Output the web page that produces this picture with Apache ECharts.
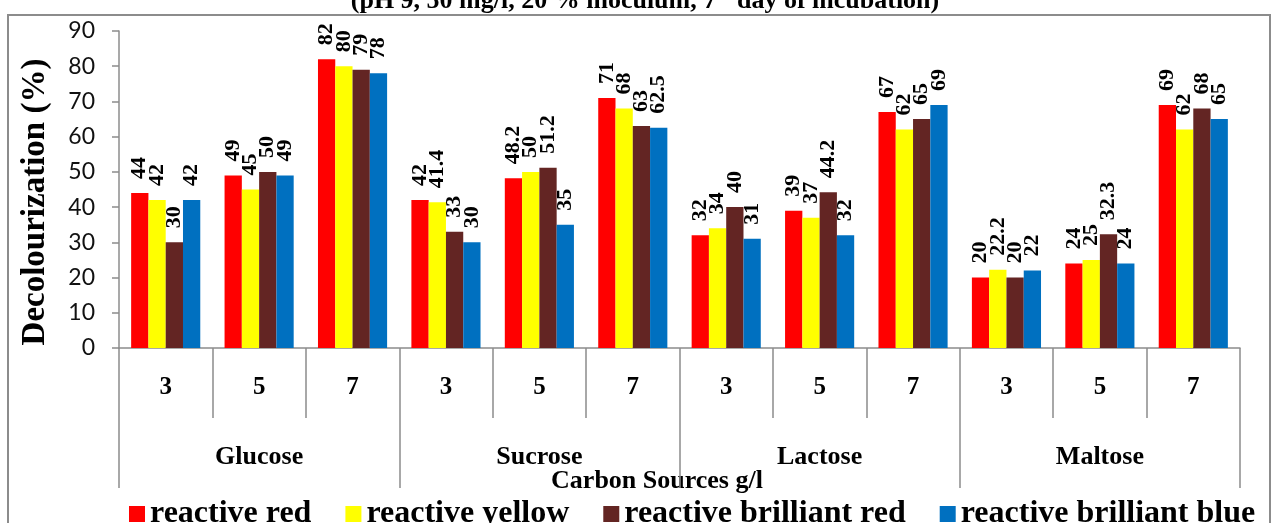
<!DOCTYPE html>
<html>
<head>
<meta charset="utf-8">
<script src="https://cdn.jsdelivr.net/npm/echarts@6/dist/echarts.min.js"></script>
<style>
  html, body { margin: 0; padding: 0; background: #fff; }
  #chart { width: 1272px; height: 523px; }
</style>
</head>
<body>
<div id="chart"></div>
<script>
// Carbon source groups and concentrations (g/l)
const sources = ['Glucose', 'Sucrose', 'Lactose', 'Maltose'];
const concentrations = ['3', '5', '7'];

// Decolourization (%) per dye, ordered Glucose 3/5/7, Sucrose 3/5/7, Lactose 3/5/7, Maltose 3/5/7
const reactiveRed = [44, 49, 82, 42, 48.2, 71, 32, 39, 67, 20, 24, 69];
const reactiveYellow = [42, 45, 80, 41.4, 50, 68, 34, 37, 62, 22.2, 25, 62];
const reactiveBrilliantRed = [30, 50, 79, 33, 51.2, 63, 40, 44.2, 65, 20, 32.3, 68];
const reactiveBrilliantBlue = [42, 49, 78, 30, 35, 62.5, 31, 32, 69, 22, 24, 65];

const seriesNames = ['reactive red', 'reactive yellow', 'reactive brilliant red', 'reactive brilliant blue'];
const seriesColors = ['#FF0000', '#FFFF00', '#632523', '#0070C0'];
const seriesData = [reactiveRed, reactiveYellow, reactiveBrilliantRed, reactiveBrilliantBlue];

const serif = '"Liberation Serif", "Times New Roman", serif';
const sans = 'Lato, "Liberation Sans", Arial, sans-serif';
const axisGray = '#8c8c8c';

const categories = [];
sources.forEach(() => concentrations.forEach(c => categories.push(c)));

const chart = echarts.init(document.getElementById('chart'));

chart.setOption({
  animation: false,
  backgroundColor: '#fff',
  grid: { left: 119, right: 32, top: 31, bottom: 175, containLabel: false },
  legend: {
    data: seriesNames,
    left: 124,
    top: 493,
    itemWidth: 16,
    itemHeight: 16,
    itemGap: 34,
    icon: 'rect',
    textStyle: { fontFamily: serif, fontWeight: 'bold', fontSize: 32, color: '#000' }
  },
  xAxis: [
    {
      type: 'category',
      data: categories,
      axisLine: { lineStyle: { color: axisGray, width: 1.5 } },
      axisTick: { show: true, interval: 0, length: 70, lineStyle: { color: axisGray, width: 1.5 } },
      axisLabel: { interval: 0, margin: 27, fontFamily: serif, fontWeight: 'bold', fontSize: 25, color: '#000' }
    },
    {
      type: 'category',
      data: sources,
      position: 'bottom',
      axisLine: { show: false },
      axisTick: { show: true, interval: 0, length: 140, lineStyle: { color: axisGray, width: 1.5 } },
      axisLabel: { interval: 0, margin: 96, fontFamily: serif, fontWeight: 'bold', fontSize: 26, color: '#000' }
    }
  ],
  yAxis: {
    type: 'value',
    min: 0,
    max: 90,
    interval: 10,
    splitLine: { show: false },
    axisLine: { show: true, lineStyle: { color: axisGray, width: 1.5 } },
    axisTick: { show: true, length: 7, lineStyle: { color: axisGray, width: 1.5 } },
    axisLabel: { margin: 24, fontFamily: sans, fontSize: 23, color: '#111' }
  },
  series: seriesData.map((d, i) => ({
    name: seriesNames[i],
    type: 'bar',
    data: d,
    barGap: '0%',
    barCategoryGap: '26%',
    itemStyle: { color: seriesColors[i] },
    label: {
      show: true,
      position: 'top',
      rotate: 90,
      align: 'left',
      verticalAlign: 'middle',
      distance: 14,
      fontFamily: serif,
      fontWeight: 'bold',
      fontSize: 22,
      color: '#000'
    }
  })),
  graphic: [
    {
      type: 'rect',
      shape: { x: 8, y: 15, width: 1262, height: 530 },
      style: { fill: 'none', stroke: axisGray, lineWidth: 2 },
      silent: true
    },
    {
      type: 'text',
      x: 645,
      y: 1,
      style: {
        text: '(pH 9, 50 mg/l, 20 % inoculum, 7{sup|th} day of incubation)',
        font: 'bold 26px ' + serif,
        fill: '#000',
        align: 'center',
        verticalAlign: 'middle',
        rich: { sup: { font: 'bold 16px ' + serif, fill: '#000', padding: [0, 0, 14, 0] } }
      }
    },
    {
      type: 'text',
      x: 35,
      y: 202,
      rotation: Math.PI / 2,
      style: {
        text: 'Decolourization (%)',
        font: 'bold 33px ' + serif,
        fill: '#000',
        align: 'center',
        verticalAlign: 'middle'
      }
    },
    {
      type: 'text',
      x: 657,
      y: 481,
      style: {
        text: 'Carbon Sources g/l',
        font: 'bold 26px ' + serif,
        fill: '#000',
        align: 'center',
        verticalAlign: 'middle'
      }
    }
  ]
});
</script>
</body>
</html>
